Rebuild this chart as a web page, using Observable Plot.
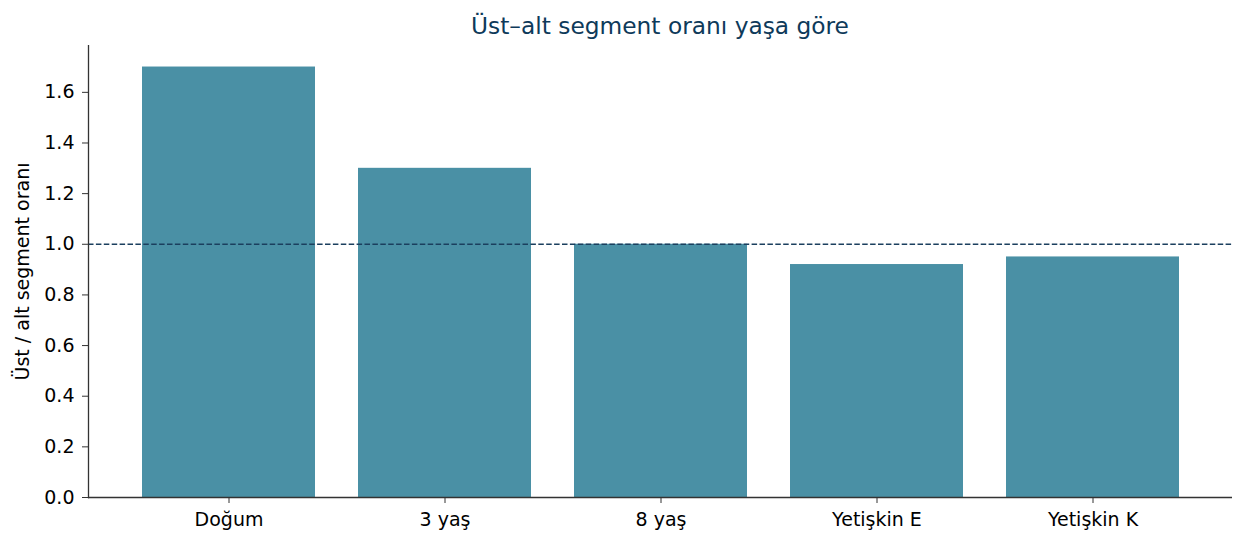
<!DOCTYPE html>
<html>
<head>
<meta charset="utf-8">
<script src="https://cdn.jsdelivr.net/npm/d3@7"></script>
<script src="https://cdn.jsdelivr.net/npm/@observablehq/plot@0.6"></script>
<style>
  body { margin: 0; background: #fff; font-family: "DejaVu Sans", sans-serif; }
  #title { position: relative; width: 1245px; height: 45px; }
  #title span { position: absolute; left: 88px; width: 1144px; top: 12px; text-align: center; font-size: 23.3px; color: #0e3a5a; }
</style>
</head>
<body>
<div id="title"><span>Üst–alt segment oranı yaşa göre</span></div>
<div id="chart"></div>
<script>
const categories = ["Doğum", "3 yaş", "8 yaş", "Yetişkin E", "Yetişkin K"];
const ratios = [1.70, 1.30, 1.00, 0.92, 0.95];
const yTicks = [0, 0.2, 0.4, 0.6, 0.8, 1.0, 1.2, 1.4, 1.6];
const referenceValue = 1.0;
const yLabel = "Üst / alt segment oranı";

const data = categories.map((c, i) => ({cat: c, val: ratios[i]}));

const chart = Plot.plot({
  width: 1245,
  height: 499,
  marginTop: 0,
  marginLeft: 88,
  marginRight: 13,
  marginBottom: 47,
  style: {fontFamily: "DejaVu Sans, sans-serif", fontSize: "19px", color: "#000", background: "#fff"},
  x: {domain: categories, paddingInner: 0.2, paddingOuter: 0.24, label: null},
  y: {domain: [0, 1.785], label: null},
  marks: [
    Plot.barY(data, {x: "cat", y: "val", fill: "#4a90a5"}),
    Plot.ruleY([referenceValue], {stroke: "#1b3f5e", strokeWidth: 1.5, strokeDasharray: "5.5,2.4"}),
    Plot.axisY({ticks: yTicks, tickFormat: ".1f", tickSize: 6, tickPadding: 8, stroke: "#333",
      label: yLabel, labelAnchor: "center", labelArrow: "none", labelOffset: 73}),
    Plot.axisX({tickSize: 6, tickPadding: 9, stroke: "#333", label: null}),
    Plot.ruleY([0], {stroke: "#333", strokeWidth: 1.3}),
    Plot.frame({anchor: "left", stroke: "#333", strokeWidth: 1.3})
  ]
});
document.getElementById("chart").appendChild(chart);
</script>
</body>
</html>
